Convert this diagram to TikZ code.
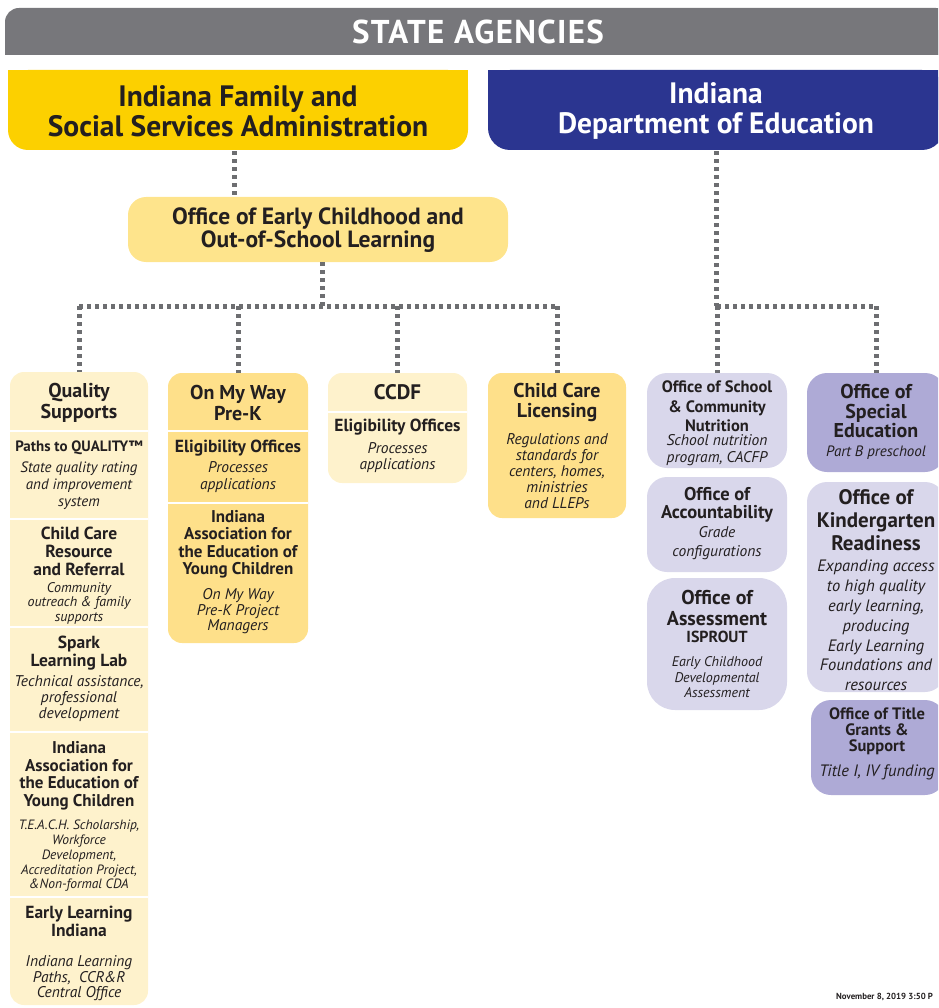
\documentclass[tikz,border=0pt]{standalone}
\usepackage{fontspec}
\setmainfont{PT Sans}
\newfontfamily\spaced[LetterSpace=4]{PT Sans}
\definecolor{hdrgray}{HTML}{77777B}
\definecolor{fssayel}{HTML}{FCD000}
\definecolor{doeblue}{HTML}{2B3590}
\definecolor{oecyel}{HTML}{FEE48C}
\definecolor{lightyel}{HTML}{FEF2CC}
\definecolor{medyel}{HTML}{FEE08A}
\definecolor{lightlav}{HTML}{D9D7EB}
\definecolor{darklav}{HTML}{AEAAD6}
\definecolor{conngray}{HTML}{6D6E71}
\definecolor{ink}{HTML}{231F20}
\newcommand{\fsz}[2]{\fontsize{#1}{#2}\selectfont}
\begin{document}
\begin{tikzpicture}[x=1pt,y=-1pt,
  box/.style={rectangle, inner sep=0pt, outer sep=0pt, anchor=north west, draw=none},
  conn/.style={draw=conngray, line width=5pt, dash pattern=on 4pt off 4pt},
  sepline/.style={draw=white, line width=2pt},
  hd/.style={font=\fsz{20}{20.5}\bfseries, text=ink, align=center, inner sep=0pt},
  sub/.style={font=\fsz{17}{17.5}\bfseries, text=ink, align=center, inner sep=0pt},
  desc/.style={font=\fsz{15.5}{16}\itshape, text=ink, align=center, inner sep=0pt},
]
\useasboundingbox (0,0) rectangle (938,1008);
\clip (0,0) rectangle (938,1008);

% ---- header bar
\fill[hdrgray, rounded corners=14pt] (5,8) rectangle (950,55);
\fill[hdrgray] (5,30) rectangle (950,55);
\node[inner sep=0pt, text=white, font=\spaced\fsz{33}{34}\bfseries] (hdr) at (478,32) {STATE AGENCIES};

% ---- agencies
\fill[fssayel, rounded corners=20pt] (8,70) rectangle (468,150);
\fill[fssayel] (8,70) rectangle (468,110);
\node[inner sep=0pt, minimum width=460, minimum height=80, text=ink, align=center,
      font=\fsz{29.5}{29.5}\bfseries] (fssa) at (238,111)
      {Indiana Family and\\Social Services Administration};

\fill[doeblue, rounded corners=22pt] (488,70) rectangle (944,150);
\fill[doeblue] (488,70) rectangle (944,110);
\node[inner sep=0pt, minimum width=456, minimum height=80, text=white, align=center,
      font=\fsz{29.5}{29.5}\bfseries] (doe) at (716,111)
      {Indiana\\Department of Education};

% ---- office of early childhood
\node[box, fill=oecyel, rounded corners=18pt, minimum width=380, minimum height=65] (oec) at (128,197) {};
\node[inner sep=0pt, text=ink, align=center, font=\fsz{23.5}{23.5}\bfseries] (oect) at (318,230)
      {Office of Early Childhood and\\Out-of-School Learning};

% ---- column boxes
\node[box, fill=lightyel, rounded corners=14pt, minimum width=138, minimum height=633] (qs) at (10,372) {};
\node[box, fill=medyel, rounded corners=14pt, minimum width=140, minimum height=270] (omw) at (168,373) {};
\node[box, fill=lightyel, rounded corners=14pt, minimum width=139, minimum height=110] (ccdf) at (328,373) {};
\node[box, fill=medyel, rounded corners=14pt, minimum width=138, minimum height=145] (ccl) at (488,373) {};
\node[box, fill=lightlav, rounded corners=20pt, minimum width=140, minimum height=95] (nut) at (647,373) {};
\node[box, fill=lightlav, rounded corners=20pt, minimum width=140, minimum height=95] (acc) at (647,477) {};
\node[box, fill=lightlav, rounded corners=28pt, minimum width=140, minimum height=132] (ass) at (647,578) {};
\node[box, fill=darklav, rounded corners=20pt, minimum width=138, minimum height=99] (sped) at (807,373) {};
\node[box, fill=lightlav, rounded corners=20pt, minimum width=138, minimum height=210] (kin) at (807,482) {};
\node[box, fill=darklav, rounded corners=20pt, minimum width=134, minimum height=95] (ttl) at (811,700) {};

% ---- separators
\foreach \yy in {431,519,627,732,897} \draw[sepline] (qs.west |- 0,\yy) -- (qs.east |- 0,\yy);
\foreach \yy in {431,503} \draw[sepline] (omw.west |- 0,\yy) -- (omw.east |- 0,\yy);
\draw[sepline] (ccdf.west |- 0,412) -- (ccdf.east |- 0,412);

% ---- connectors
\coordinate (jl) at (322,306);
\coordinate (jr) at (716,306);
\draw[conn] ([xshift=-4pt]fssa.south) -- ([xshift=-4pt]fssa.south |- oec.north);
\draw[conn] ([xshift=4pt]oec.south) -- ([xshift=4pt]oec.south |- jl);
\draw[conn] (qs.north |- jl) -- (ccl.north |- jl);
\foreach \n in {qs,omw,ccdf,ccl} \draw[conn] (\n.north |- jl) -- (\n.north);
\draw[conn] (doe.south) -- (doe.south |- jr);
\draw[conn] (nut.north |- jr) -- (sped.north |- jr);
\foreach \n in {nut,sped} \draw[conn] (\n.north |- jr) -- (\n.north);

% ---- Quality Supports column
\node[hd] (qsh) at (79,403) {Quality\\Supports};
\node[sub, font=\fsz{15}{16}\bfseries] (p2q) at (79,448) {Paths to QUALITY™};
\node[desc, font=\fsz{15}{17}\itshape] (p2qd) at (79,486) {State quality rating\\and improvement\\system};
\node[sub, font=\fsz{17.5}{18}\bfseries] (ccrr) at (79,551) {Child Care\\Resource\\and Referral};
\node[desc, font=\fsz{14}{14.5}\itshape] (ccrrd) at (79,603) {Community\\outreach \& family\\supports};
\node[sub, font=\fsz{17.5}{18}\bfseries] (spark) at (79,653) {Spark\\Learning Lab};
\node[desc] (sparkd) at (79,699) {Technical assistance,\\professional\\development};
\node[sub] (iaeyca) at (79,775.5) {Indiana\\Association for\\the Education of\\Young Children};
\node[desc, font=\fsz{13.5}{14.75}\itshape] (iaeycad) at (79,856) {T.E.A.C.H. Scholarship,\\Workforce\\Development,\\Accreditation Project,\\\&Non-formal CDA};
\node[sub, font=\fsz{17.5}{18}\bfseries] (eli) at (79,921) {Early Learning\\Indiana};
\node[desc, font=\fsz{15.5}{15.5}\itshape] (elid) at (79,978.5) {Indiana Learning\\Paths,\ \ CCR\&R\\Central Office};

% ---- On My Way Pre-K column
\node[hd] (omwh) at (238,403) {On My Way\\Pre-K};
\node[sub, font=\fsz{17.5}{18}\bfseries] (eliga) at (238,448) {Eligibility Offices};
\node[desc, font=\fsz{15.5}{17}\itshape] (eligad) at (238,477.5) {Processes\\applications};
\node[sub] (iaeycb) at (238,544.5) {Indiana\\Association for\\the Education of\\Young Children};
\node[desc, font=\fsz{15.5}{15.5}\itshape] (iaeycbd) at (238,611.5) {On My Way\\Pre-K Project\\Managers};

% ---- CCDF column
\node[hd, font=\fsz{21}{21}\bfseries] (ccdfh) at (397.5,392) {CCDF};
\node[sub, font=\fsz{17.5}{18}\bfseries] (eligb) at (397.5,427) {Eligibility Offices};
\node[desc] (eligbd) at (397.5,458) {Processes\\applications};

% ---- Child Care Licensing column
\node[hd] (cclh) at (557,402.5) {Child Care\\Licensing};
\node[desc] (ccld) at (557,471) {Regulations and\\standards for\\centers, homes,\\ministries\\and LLEPs};

% ---- DOE offices, left
\node[sub, font=\fsz{16.5}{19.5}\bfseries] (nuth) at (717,406.5) {Office of School\\\& Community\\Nutrition};
\node[desc, font=\fsz{15.5}{17}\itshape] (nutd) at (717,450.5) {School nutrition\\program, CACFP};
\node[sub, font=\fsz{18.5}{18}\bfseries] (acch) at (717,505) {Office of\\Accountability};
\node[desc, font=\fsz{15.5}{19}\itshape] (accd) at (717,543.5) {Grade\\configurations};
\node[hd] (assh) at (717,608) {Office of\\Assessment};
\node[sub, font=\fsz{16}{16}\bfseries] (isp) at (717,637) {ISPROUT};
\node[desc, font=\fsz{14}{15.5}\itshape] (assd) at (717,677.5) {Early Childhood\\Developmental\\Assessment};

% ---- DOE offices, right
\node[hd, font=\fsz{20}{19.5}\bfseries] (spedh) at (876,411) {Office of\\Special\\Education};
\node[desc, font=\fsz{15}{15}\itshape] (spedd) at (876,453) {Part B preschool};
\node[hd, font=\fsz{21}{23}\bfseries] (kinh) at (876,520) {Office of\\Kindergarten\\Readiness};
\node[desc, font=\fsz{16.5}{19.8}\itshape] (kind) at (876,625.5) {Expanding access\\to high quality\\early learning,\\producing\\Early Learning\\Foundations and\\resources};
\node[sub, font=\fsz{16.5}{16}\bfseries] (ttlh) at (877,731) {Office of Title\\Grants \&\\Support};
\node[desc, font=\fsz{16.5}{16}\itshape] (ttld) at (877,772) {Title I, IV funding};

% ---- footer
\node[anchor=west, inner sep=0pt, text=ink, font=\fsz{8.8}{9}\bfseries] (foot) at (836,997) {November 8, 2019 3:50 P};
\end{tikzpicture}
\end{document}
